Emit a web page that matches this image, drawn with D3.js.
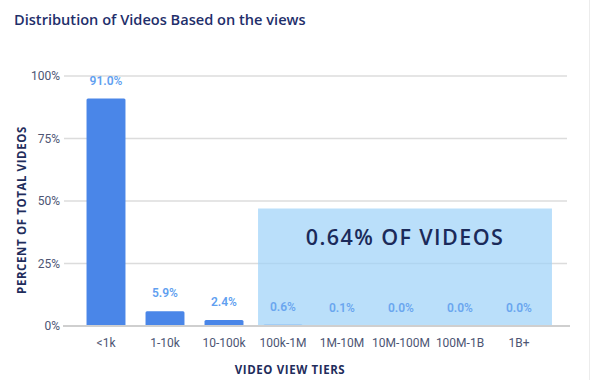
<!DOCTYPE html>
<html><head><meta charset="utf-8">
<script src="https://cdn.jsdelivr.net/npm/d3@7"></script>
<style>
html,body{margin:0;padding:0;background:#fff;}
svg{display:block;}
</style></head>
<body>
<svg id="chart" width="590" height="380"></svg>
<script>
const categories = ["<1k","1-10k","10-100k","100k-1M","1M-10M","10M-100M","100M-1B","1B+"];
const values = [91.0, 5.9, 2.4, 0.6, 0.1, 0.0, 0.0, 0.0];
const yTicks = [0, 25, 50, 75, 100];
const highlightCats = ["100k-1M","1B+"];
const highlightValue = 47;
const highlightText = "0.64% OF VIDEOS";

const svg = d3.select("#chart");
const font = "Roboto, 'Open Sans', sans-serif";

// right border
svg.append("line").attr("x1",589.5).attr("x2",589.5).attr("y1",0).attr("y2",380)
  .attr("stroke","#ececec").attr("stroke-width",1);

svg.append("text").attr("x",14).attr("y",25)
  .attr("font-family","'Open Sans', sans-serif").attr("font-weight",600)
  .attr("font-size",14.6).attr("fill","#1f2f6b")
  .text("Distribution of Videos Based on the views");

const y = d3.scaleLinear().domain([0,100]).range([326,76]);
const x = d3.scaleBand().domain(categories).range([76.5,548.5]).paddingInner(0.34).paddingOuter(0.17);

// grid
const gridX0 = 64, gridX1 = 567;
svg.append("g").selectAll("line").data(yTicks.filter(d=>d>0)).join("line")
  .attr("x1",gridX0).attr("x2",gridX1)
  .attr("y1",d=>y(d)).attr("y2",d=>y(d))
  .attr("stroke","#dcdcdc").attr("stroke-width",1.5);

// y axis labels via d3 axis
const yAxis = svg.append("g").attr("transform","translate(64,0)")
  .call(d3.axisLeft(y).tickValues(yTicks).tickFormat(d=>d+"%").tickSize(0).tickPadding(4));
yAxis.select(".domain").remove();
yAxis.selectAll("text").attr("font-family",font).attr("font-size",12).attr("fill","#4d5573");

// bars
svg.append("g").selectAll("rect").data(values).join("rect")
  .attr("x",(d,i)=>x(categories[i]))
  .attr("width",x.bandwidth())
  .attr("y",d=>y(d))
  .attr("height",d=>y(0)-y(d))
  .attr("rx",1.5)
  .attr("fill","#4a86e8");

// highlight rect
const hx0 = x(highlightCats[0]) - 5.5;
const hx1 = x(highlightCats[1]) + x.bandwidth() + 13.5;
svg.append("rect").attr("x",hx0).attr("y",y(highlightValue))
  .attr("width",hx1-hx0).attr("height",y(0)-y(highlightValue))
  .attr("fill","#9fd3f8").attr("opacity",0.72);

// value labels
svg.append("g").selectAll("text").data(values).join("text")
  .attr("x",(d,i)=>x(categories[i])+x.bandwidth()/2)
  .attr("y",d=>y(d)-14)
  .attr("text-anchor","middle")
  .attr("font-family",font).attr("font-weight",600).attr("font-size",12)
  .attr("fill",(d,i)=>i>=3?"#6aa6ef":"#619ff0")
  .text(d=>d.toFixed(1)+"%");

// x axis
const xAxis = svg.append("g").attr("transform","translate(0,326)")
  .call(d3.axisBottom(x).tickSize(0).tickPadding(12));
xAxis.select(".domain").remove();
xAxis.selectAll("text").attr("font-family",font).attr("font-size",12).attr("fill","#4d5573");
svg.append("line").attr("x1",63).attr("x2",570).attr("y1",326).attr("y2",326)
  .attr("stroke","#cfcfcf").attr("stroke-width",2);

// highlight text
svg.append("text").attr("x",(hx0+hx1)/2).attr("y",245)
  .attr("text-anchor","middle")
  .attr("font-family","'Open Sans', sans-serif").attr("font-weight",600)
  .attr("font-size",21.5).attr("letter-spacing",1.4).attr("fill","#1b2a5a")
  .text(highlightText);

// axis titles
svg.append("text").attr("x",290).attr("y",374).attr("text-anchor","middle")
  .attr("font-family","'Open Sans', sans-serif").attr("font-weight",700)
  .attr("font-size",11.5).attr("letter-spacing",0.6).attr("fill","#1f2d5c")
  .text("VIDEO VIEW TIERS");
svg.append("text").attr("transform","translate(26,210) rotate(-90)").attr("text-anchor","middle")
  .attr("font-family","'Open Sans', sans-serif").attr("font-weight",700)
  .attr("font-size",11.5).attr("letter-spacing",0.6).attr("fill","#1f2d5c")
  .text("PERCENT OF TOTAL VIDEOS");
</script>
</body></html>
